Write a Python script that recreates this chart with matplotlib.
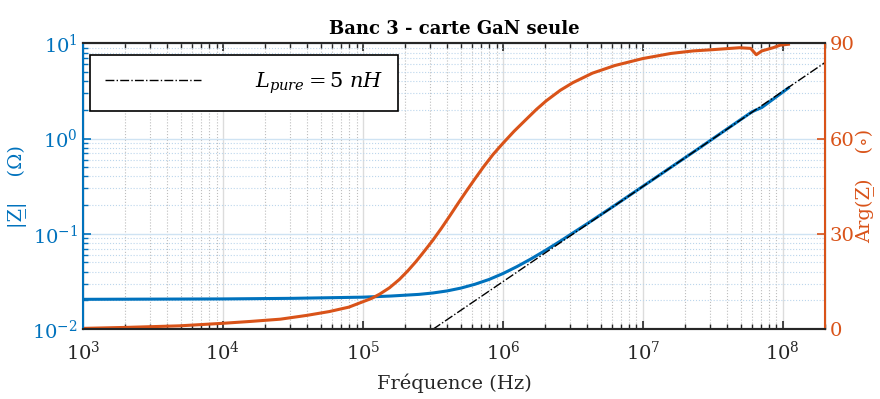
import matplotlib
matplotlib.use('Agg')
from matplotlib import pyplot as plt
from matplotlib.ticker import LogLocator, NullFormatter
import numpy as np

# |Z| (log10 of frequency, ohms)
logf_z = [3.0, 3.5, 4.0, 4.5, 5.0, 5.2, 5.4, 5.5, 5.6, 5.7, 5.8, 5.9, 6.0,
          6.1, 6.2, 6.3, 6.4, 6.6, 6.8, 7.0, 7.4, 7.78, 7.81, 7.85, 8.04]
z_mag = [0.0205, 0.0206, 0.0207, 0.0210, 0.0216, 0.0222, 0.0231, 0.0239,
         0.0251, 0.0269, 0.0295, 0.0331, 0.0382, 0.0452, 0.0544, 0.0664,
         0.0819, 0.127, 0.199, 0.315, 0.789, 1.91, 2.00, 2.12, 3.40]

# phase (degrees)
logf_p = [3.0, 3.3, 3.69, 4.0, 4.2, 4.41, 4.6, 4.76, 4.9, 5.0, 5.06, 5.12,
          5.19, 5.26, 5.32, 5.38, 5.44, 5.5, 5.56, 5.62, 5.68, 5.74, 5.8,
          5.86, 5.93, 6.0, 6.08, 6.17, 6.24, 6.31, 6.41, 6.5, 6.64, 6.8,
          7.0, 7.2, 7.36, 7.5, 7.69, 7.77, 7.81, 7.85, 7.93, 7.98, 8.04]
z_arg = [0.2, 0.5, 1.0, 1.8, 2.4, 3.1, 4.3, 5.5, 6.9, 8.6, 9.6, 11.0,
         13.0, 15.6, 18.3, 21.3, 24.6, 28.0, 31.7, 35.6, 39.6, 43.5, 47.3,
         51.0, 55.0, 58.5, 62.3, 66.2, 69.2, 71.9, 75.2, 77.6, 80.6, 83.0,
         85.2, 86.8, 87.6, 88.0, 88.6, 88.4, 86.4, 87.6, 88.6, 89.4, 89.7]

# pure inductance reference, L = 5 nH
f_ref = [3.16e5, 1e6, 1e7, 1e8, 2e8]
z_ref = [0.00993, 0.0314, 0.314, 3.14, 6.28]

blue = '#0072BD'
orange = '#D95319'
dark = '#262626'

plt.rcParams['font.family'] = ['DejaVu Serif']
plt.rcParams['mathtext.fontset'] = 'dejavuserif'

fig = plt.figure(figsize=(8.8, 3.99), dpi=100)
ax = fig.add_axes([0.0943, 0.1754, 0.8432, 0.7161])
ax2 = ax.twinx()

f_z = [10 ** v for v in logf_z]
f_p = [10 ** v for v in logf_p]

ax.plot(f_ref, z_ref, linestyle='-.', color='black', linewidth=1.0,
        label=r'$L_{pure} = 5\ nH$', zorder=3)
ax.plot(f_z, z_mag, color=blue, linewidth=2.2, zorder=2)
ax2.plot(f_p, z_arg, color=orange, linewidth=2.2)

ax.set_xscale('log')
ax.set_yscale('log')
ax.set_xlim(1e3, 2e8)
ax.set_ylim(1e-2, 1e1)
ax2.set_ylim(0, 90)
ax2.set_yticks([0, 30, 60, 90])

ax.xaxis.set_major_locator(LogLocator(base=10, numticks=20))
ax.xaxis.set_minor_locator(LogLocator(base=10, subs=np.arange(2, 10), numticks=20))
ax.xaxis.set_minor_formatter(NullFormatter())
ax.yaxis.set_minor_locator(LogLocator(base=10, subs=np.arange(2, 10), numticks=20))
ax.yaxis.set_minor_formatter(NullFormatter())

# grid: vertical gray, horizontal light blue (left-axis colour)
ax.grid(True, which='major', axis='x', color='#dcdcdc', linewidth=1.0)
ax.grid(True, which='minor', axis='x', color='#bdbdbd', linestyle=':', linewidth=0.8)
ax.grid(True, which='major', axis='y', color='#cfe3f3', linewidth=1.0)
ax.grid(True, which='minor', axis='y', color='#bcd6ec', linestyle=':', linewidth=0.8)
ax.set_axisbelow(True)

ax.tick_params(axis='x', which='both', direction='in', top=True, colors=dark,
               labelsize=14, pad=8)
ax.tick_params(axis='x', which='major', length=6, width=1.2)
ax.tick_params(axis='x', which='minor', length=3.5, width=1.0)
ax.tick_params(axis='y', which='both', direction='in', colors=blue, labelsize=14)
ax.tick_params(axis='y', which='major', length=6, width=1.2)
ax.tick_params(axis='y', which='minor', length=3.5, width=1.0)
ax2.tick_params(axis='y', direction='in', colors=orange, labelsize=14,
                length=6, width=1.2)

for s in ['top', 'bottom']:
    ax.spines[s].set_color(dark)
    ax.spines[s].set_linewidth(1.5)
    ax2.spines[s].set_color(dark)
    ax2.spines[s].set_linewidth(1.5)
ax2.spines['left'].set_color(blue)
ax2.spines['left'].set_linewidth(1.5)
ax2.spines['right'].set_color(orange)
ax2.spines['right'].set_linewidth(1.5)

ax.set_xlabel('Fréquence (Hz)', fontsize=14, color=dark, labelpad=7)
ax.set_ylabel('|Z\u0332|    (Ω)', fontsize=14, color=blue, labelpad=4)
ax2.set_ylabel('Arg(Z\u0332)    (∘)', fontsize=14, color=orange, labelpad=1)
ax.set_title('Banc 3 - carte GaN seule', fontsize=13, fontweight='bold',
             color='black', pad=7)

leg = ax.legend(loc='upper left', bbox_to_anchor=(0.0094, 0.958),
                borderaxespad=0, fontsize=15, frameon=True, fancybox=False,
                handlelength=4.6, handletextpad=2.6, borderpad=0.72)
leg.get_frame().set_edgecolor('black')
leg.get_frame().set_linewidth(1.2)
leg.get_frame().set_alpha(1)

fig.savefig('out.png', dpi=100)
